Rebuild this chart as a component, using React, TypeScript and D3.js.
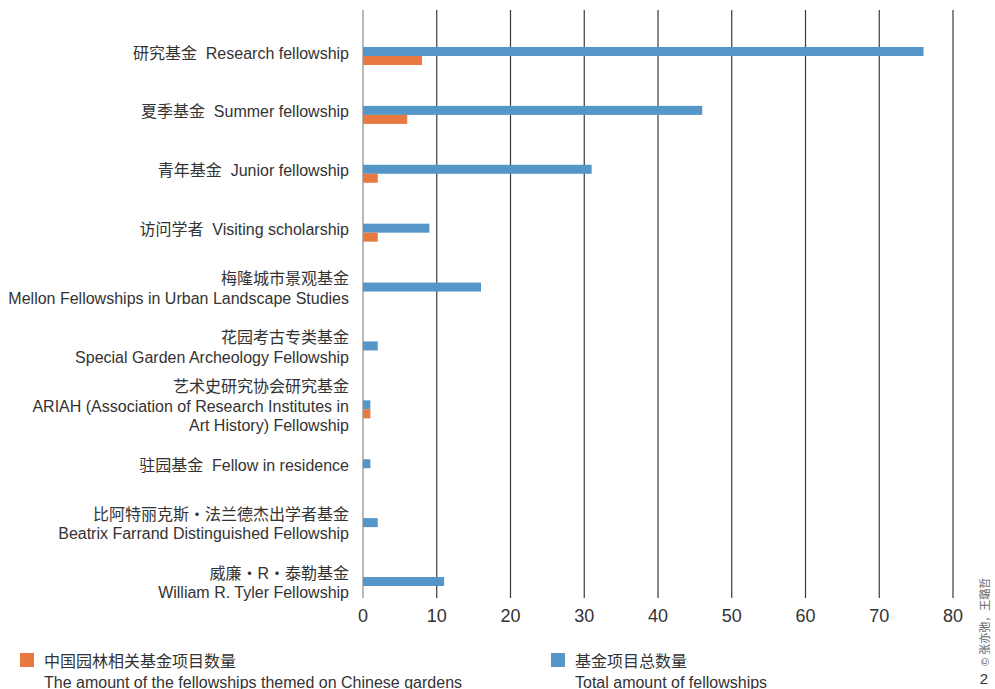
import React from "react";
import * as d3 from "d3";

// Fellowship categories (Chinese + English, one entry per text line)
const categories: string[][] = [
  ["研究基金  Research fellowship"],
  ["夏季基金  Summer fellowship"],
  ["青年基金  Junior fellowship"],
  ["访问学者  Visiting scholarship"],
  ["梅隆城市景观基金", "Mellon Fellowships in Urban Landscape Studies"],
  ["花园考古专类基金", "Special Garden Archeology Fellowship"],
  ["艺术史研究协会研究基金", "ARIAH (Association of Research Institutes in", "Art History) Fellowship"],
  ["驻园基金  Fellow in residence"],
  ["比阿特丽克斯・法兰德杰出学者基金", "Beatrix Farrand Distinguished Fellowship"],
  ["威廉・R・泰勒基金", "William R. Tyler Fellowship"],
];

// Total number of fellowships per category
const totalFellowships: number[] = [76, 46, 31, 9, 16, 2, 1, 1, 2, 11];
// Fellowships themed on Chinese gardens per category
const chineseGardenFellowships: number[] = [8, 6, 2, 2, 0, 0, 1, 0, 0, 0];

const xTicks: number[] = [0, 10, 20, 30, 40, 50, 60, 70, 80];

const legendItems = [
  { zh: "中国园林相关基金项目数量", en: "The amount of the fellowships themed on Chinese gardens", color: "#e8793f" },
  { zh: "基金项目总数量", en: "Total amount of fellowships", color: "#5596c8" },
];

const BLUE = "#5596c8";
const ORANGE = "#e8793f";
const FONT = "'Liberation Sans', Arial, 'Noto Sans CJK SC', sans-serif";

export default function App() {
  const width = 995;
  const height = 689;
  const plotTop = 10;
  const plotBottom = 598;

  const x = d3.scaleLinear().domain([0, 80]).range([363, 953]);
  const keys = categories.map((_, i) => String(i));
  const y = d3.scalePoint<string>().domain(keys).range([56, 586]);
  const barH = 9;

  return (
    <svg
      width={width}
      height={height}
      style={{ position: "absolute", left: 0, top: 0, background: "#fff" }}
      fontFamily={FONT}
    >
      {/* vertical grid lines */}
      {xTicks.map((t) => (
        <line
          key={"g" + t}
          x1={x(t)}
          x2={x(t)}
          y1={plotTop}
          y2={plotBottom}
          stroke={t === 0 ? "#8a8a8a" : "#3a3a3a"}
          strokeWidth={1.2}
        />
      ))}

      {/* bars: total on top, Chinese-garden subset beneath */}
      {keys.map((k, i) => {
        const c = y(k) as number;
        return (
          <g key={"b" + k}>
            <rect x={x(0)} y={c - barH} width={x(totalFellowships[i]) - x(0)} height={barH} fill={BLUE} />
            <rect
              x={x(0)}
              y={c}
              width={x(chineseGardenFellowships[i]) - x(0)}
              height={barH}
              fill={ORANGE}
            />
          </g>
        );
      })}

      {/* category labels */}
      {categories.map((lines, i) => {
        const c = (y(String(i)) as number) - 3;
        const lh = 19.5;
        const start = c - ((lines.length - 1) * lh) / 2;
        return (
          <text key={"l" + i} x={349} fontSize={16} fill="#333" textAnchor="end">
            {lines.map((ln, j) => (
              <tspan key={j} x={349} y={start + j * lh} dy="0.35em" style={{ whiteSpace: "pre" }}>
                {ln}
              </tspan>
            ))}
          </text>
        );
      })}

      {/* x tick labels */}
      {xTicks.map((t) => (
        <text key={"t" + t} x={x(t)} y={616} dy="0.35em" fontSize={18} fill="#333" textAnchor="middle">
          {t}
        </text>
      ))}

      {/* legend */}
      {legendItems.map((it, i) => {
        const lx = i === 0 ? 20 : 551;
        return (
          <g key={"lg" + i}>
            <rect x={lx} y={653} width={14} height={14} fill={it.color} />
            <text x={lx + 24} y={661} dy="0.35em" fontSize={16} fill="#333">
              {it.zh}
            </text>
            <text x={lx + 24} y={682} dy="0.35em" fontSize={16} fill="#333">
              {it.en}
            </text>
          </g>
        );
      })}

      {/* credit */}
      <text transform="translate(989,666) rotate(-90)" fontSize={11} fill="#666">
        © 张亦弛，王璐哲
      </text>
      <text x={984} y={679} dy="0.35em" fontSize={15} fill="#333" textAnchor="middle">
        2
      </text>
    </svg>
  );
}
